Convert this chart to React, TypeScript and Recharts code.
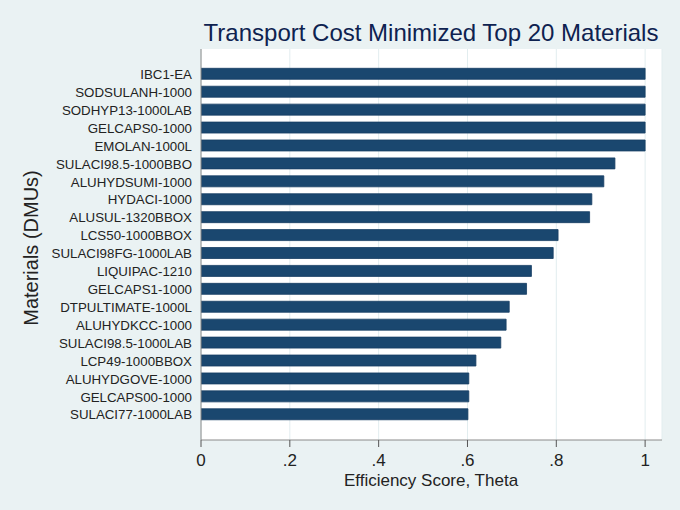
import React from 'react';
import { BarChart, Bar, XAxis, YAxis, CartesianGrid } from 'recharts';

const categories = [
  'IBC1-EA',
  'SODSULANH-1000',
  'SODHYP13-1000LAB',
  'GELCAPS0-1000',
  'EMOLAN-1000L',
  'SULACI98.5-1000BBO',
  'ALUHYDSUMI-1000',
  'HYDACI-1000',
  'ALUSUL-1320BBOX',
  'LCS50-1000BBOX',
  'SULACI98FG-1000LAB',
  'LIQUIPAC-1210',
  'GELCAPS1-1000',
  'DTPULTIMATE-1000L',
  'ALUHYDKCC-1000',
  'SULACI98.5-1000LAB',
  'LCP49-1000BBOX',
  'ALUHYDGOVE-1000',
  'GELCAPS00-1000',
  'SULACI77-1000LAB',
];

const theta = [
  1.0, 1.0, 1.0, 1.0, 1.0, 0.932, 0.907, 0.88, 0.875, 0.804,
  0.793, 0.744, 0.733, 0.694, 0.687, 0.675, 0.619, 0.603, 0.603, 0.601,
];

const xTicks = [0, 0.2, 0.4, 0.6, 0.8, 1];

const data = categories.map((name, i) => ({ name, theta: theta[i] }));

const FONT = '"Liberation Sans", Arial, Helvetica, sans-serif';

const fmt = (v: number) => {
  if (v === 0) return '0';
  if (v === 1) return '1';
  return String(v).replace(/^0/, '');
};

export default function App() {
  return (
    <div
      style={{
        position: 'absolute',
        left: 0,
        top: 0,
        width: 680,
        height: 510,
        background: '#eaf2f3',
        fontFamily: FONT,
      }}
    >
      <BarChart
        width={680}
        height={510}
        data={data}
        layout="vertical"
        margin={{ top: 49, right: 18, left: 0, bottom: 0 }}
        style={{ position: 'absolute', left: 0, top: 0 }}
      >
        <text
          x={431}
          y={41}
          textAnchor="middle"
          fontSize={24}
          fill="#0e2250"
          fontFamily={FONT}
        >
          Transport Cost Minimized Top 20 Materials
        </text>
        <CartesianGrid
          horizontal={false}
          fill="#ffffff"
          stroke="#e2edef"
          strokeWidth={1}
        />
        <XAxis
          type="number"
          dataKey="theta"
          domain={[0, 1.038]}
          ticks={xTicks}
          tickFormatter={fmt}
          allowDataOverflow
          height={70}
          axisLine={{ stroke: '#8a8a8a' }}
          tickLine={{ stroke: '#555555' }}
          tickSize={7}
          tickMargin={7}
          tick={{ fontSize: 17, fill: '#222222', fontFamily: FONT }}
          label={{
            content: () => (
              <text
                x={431}
                y={486}
                textAnchor="middle"
                fontSize={17}
                fill="#222222"
                fontFamily={FONT}
              >
                Efficiency Score, Theta
              </text>
            ),
          }}
        />
        <YAxis
          type="category"
          dataKey="name"
          width={201}
          padding={{ top: 16.3, bottom: 16.3 }}
          axisLine={{ stroke: '#8a8a8a' }}
          tickLine={false}
          tickSize={6}
          tickMargin={3}
          interval={0}
          tick={{ fontSize: 13.3, fill: '#222222', fontFamily: FONT }}
          label={{
            content: () => (
              <text
                x={38}
                y={248}
                transform="rotate(-90, 38, 248)"
                textAnchor="middle"
                fontSize={20}
                fill="#222222"
                fontFamily={FONT}
              >
                Materials (DMUs)
              </text>
            ),
          }}
        />
        <Bar
          dataKey="theta"
          fill="#1a476f"
          stroke="#163e63"
          strokeWidth={0.8}
          barSize={11}
          isAnimationActive={false}
        />
      </BarChart>
    </div>
  );
}
